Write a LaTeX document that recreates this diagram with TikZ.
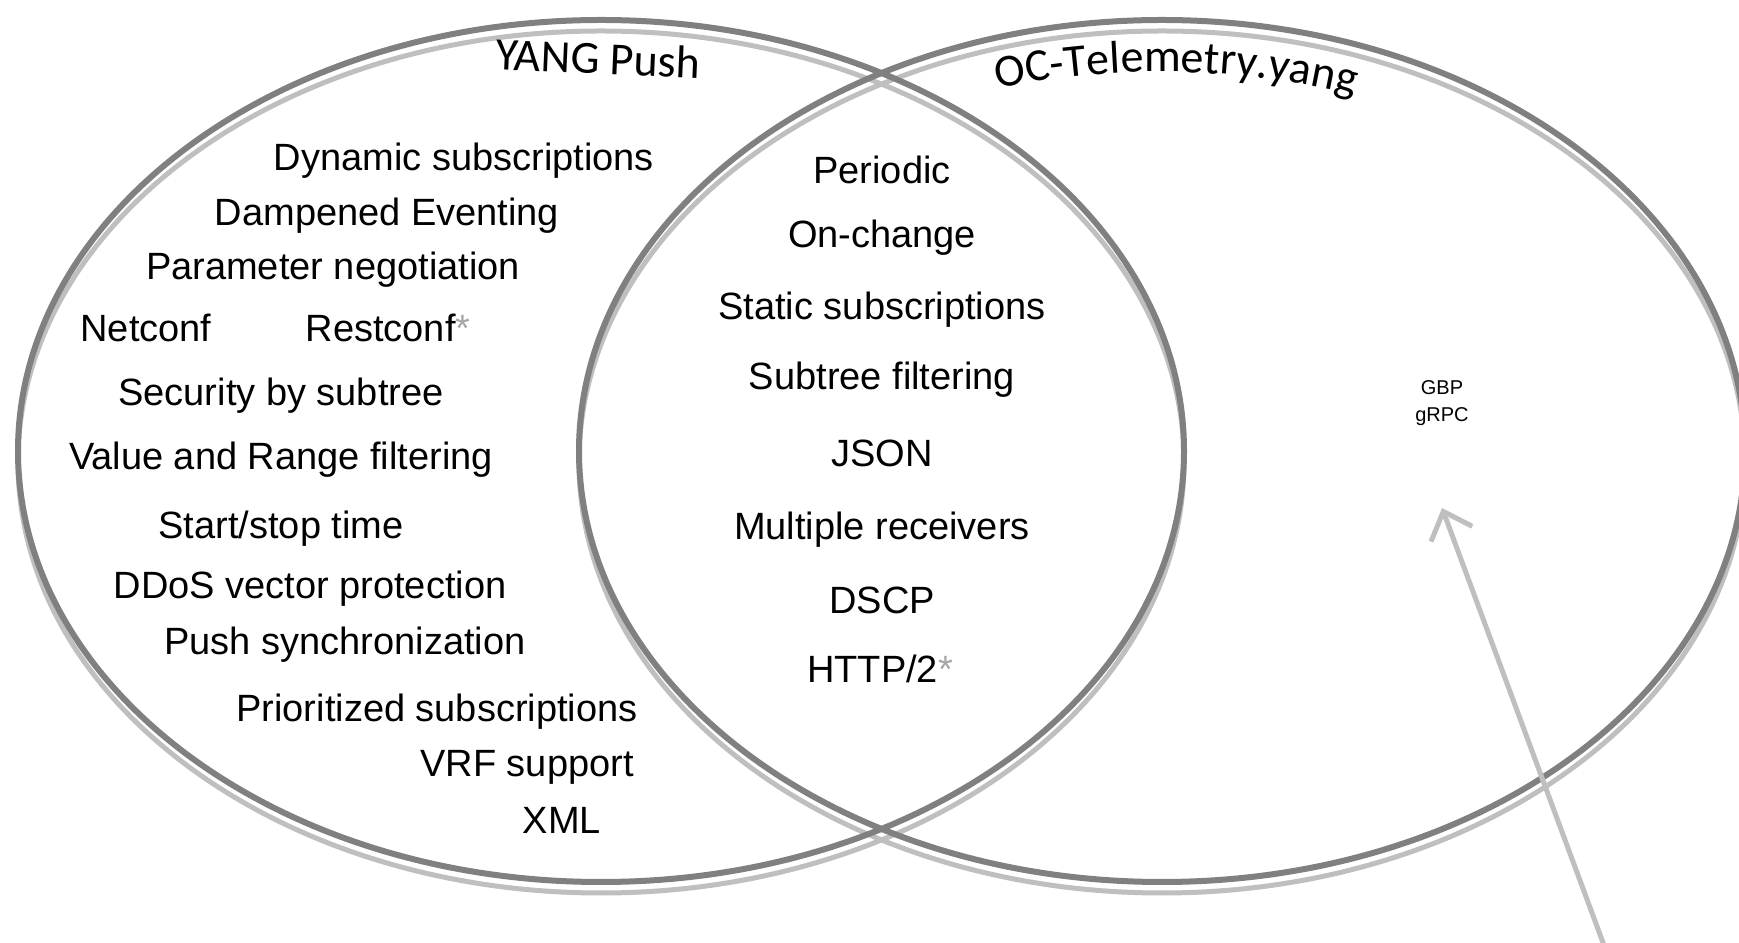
\documentclass[tikz,border=0pt]{standalone}
\usepackage{fontspec}
\setmainfont{Liberation Sans}
\newfontfamily\titlefont{Carlito}
\usetikzlibrary{calc, arrows.meta, decorations.text}
\tikzset{%
  ring/.style={draw=black!50, line width=3pt},% outline of a set
  ringshade/.style={draw=black!25, line width=2.5pt},% lighter copy below the outline
  item/.style={anchor=base, inner sep=0pt, font=\fontsize{19}{22}\selectfont},% feature text
  setname/.style={font=\titlefont\fontsize{23}{27}\selectfont},% name of a set
  proto/.style={align=center, inner sep=0pt, font=\fontsize{10}{13.5}\selectfont},
  pointer/.style={draw=black!25, line width=2.5pt, -{Straight Barb[length=12pt, width=22pt]}}
}
\newcommand*{\optmark}{\textcolor{black!35}{*}}
\newcommand*{\namefont}{\titlefont\fontsize{23}{27}\selectfont}

\begin{document}
\begin{tikzpicture}[x=0.5pt, y=0.5pt]
  \useasboundingbox (0,0) rectangle (1739,942);
  \clip (0,0) rectangle (1739,942);
  % Centres of the two sets:
  \coordinate (lctr) at (601,491);
  \coordinate (rctr) at (1162,491);
  % The two ellipses, each with a lighter copy just below:
  \draw[ringshade] ($(lctr)+(0,-11)$) ellipse [x radius=583, y radius=431];
  \draw[ringshade] ($(rctr)+(0,-11)$) ellipse [x radius=583, y radius=431];
  \draw[ring] (lctr) ellipse [x radius=583, y radius=431];
  \draw[ring] (rctr) ellipse [x radius=583, y radius=431];
  % Names of the sets:
  \node[setname, rotate=-2.5] (yangpush) at (598,884) {YANG Push};
  \path[decorate, decoration={text along path, text align=center,
      text={|\namefont|OC-Telemetry.yang}}]
    ($(rctr)+(110:563 and 379)$) arc [start angle=110, end angle=67, x radius=563, y radius=379];
  % Only in YANG Push:
  \node[item] (dynsub) at (464,771) {Dynamic subscriptions};
  \node[item] (damp) at (387,716) {Dampened Eventing};
  \node[item] (param) at (333,662) {Parameter negotiation};
  \node[item] (netconf) at (146,600) {Netconf};
  \node[item] (restconf) at (388,600) {Restconf\optmark};
  \node[item] (secsub) at (281,536) {Security by subtree};
  \node[item] (valrange) at (281,472) {Value and Range filtering};
  \node[item] (startstop) at (281,403) {Start/stop time};
  \node[item] (ddos) at (310,343) {DDoS vector protection};
  \node[item] (pushsync) at (345,287) {Push synchronization};
  \node[item] (prio) at (437,220) {Prioritized subscriptions};
  \node[item] (vrf) at (527,165) {VRF support};
  \node[item] (xml) at (562,108) {XML};
  % In both sets:
  \node[item] (periodic) at (882,758) {Periodic};
  \node[item] (onchange) at (882,694) {On-change};
  \node[item] (statsub) at (882,622) {Static subscriptions};
  \node[item] (subtree) at (882,552) {Subtree filtering};
  \node[item] (json) at (882,475) {JSON};
  \node[item] (multirx) at (882,402) {Multiple receivers};
  \node[item] (dscp) at (882,328) {DSCP};
  \node[item] (http) at (880,259) {HTTP/2\optmark};
  % Only in OC-Telemetry.yang:
  \node[proto] (gbp) at (1442,539) {GBP\\gRPC};
  \coordinate (tail) at (1605,-6);
  \coordinate (tip) at (1442,434);
  \draw[pointer] (tail) -- (tip);
\end{tikzpicture}
\end{document}
